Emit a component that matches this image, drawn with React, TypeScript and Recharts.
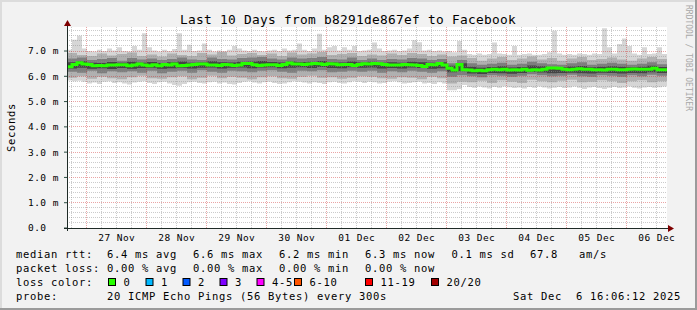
import React from 'react';
import {ComposedChart, Area, Line, XAxis, YAxis, CartesianGrid, ReferenceLine} from 'recharts';

const MONO = "'DejaVu Sans Mono', monospace";

// 2-hour steps starting Nov 26 16:06 (t = hours since start)
const median = [
    6.38, 6.47, 6.54, 6.49, 6.47, 6.42, 6.43, 6.42, 6.45, 6.45,
    6.46, 6.46, 6.42, 6.45, 6.49, 6.45, 6.42, 6.46, 6.42, 6.47,
    6.45, 6.49, 6.42, 6.43, 6.45, 6.47, 6.49, 6.49, 6.45, 6.45,
    6.43, 6.47, 6.46, 6.43, 6.45, 6.51, 6.51, 6.46, 6.43, 6.45,
    6.46, 6.46, 6.43, 6.47, 6.53, 6.49, 6.49, 6.47, 6.49, 6.51,
    6.50, 6.47, 6.50, 6.49, 6.46, 6.47, 6.47, 6.43, 6.47, 6.50,
    6.49, 6.51, 6.50, 6.47, 6.45, 6.45, 6.45, 6.47, 6.46, 6.45,
    6.43, 6.39, 6.47, 6.46, 6.51, 6.45, 6.32, 6.25, 6.47, 6.26,
    6.25, 6.22, 6.24, 6.22, 6.26, 6.28, 6.26, 6.28, 6.25, 6.26,
    6.25, 6.28, 6.24, 6.26, 6.25, 6.28, 6.33, 6.33, 6.32, 6.28,
    6.26, 6.28, 6.30, 6.28, 6.28, 6.26, 6.26, 6.25, 6.28, 6.28,
    6.26, 6.26, 6.28, 6.29, 6.28, 6.28, 6.28, 6.32, 6.26, 6.26,
];

// highest ping (light smoke top, spikes)
const pingMax = [
    7.05, 7.45, 7.60, 7.10, 7.00, 6.98, 7.05, 7.00, 7.10, 7.02,
    7.15, 7.00, 6.98, 7.20, 7.05, 7.70, 7.15, 7.02, 6.98, 7.05,
    7.00, 7.08, 7.70, 7.05, 7.25, 7.00, 7.02, 7.30, 7.05, 6.98,
    7.02, 7.00, 7.05, 7.20, 7.10, 7.02, 7.00, 7.05, 7.00, 6.98,
    7.02, 7.05, 7.00, 7.10, 7.02, 7.05, 7.30, 7.05, 7.00, 7.10,
    7.68, 7.05, 7.15, 7.20, 7.02, 7.15, 7.05, 7.20, 7.00, 7.02,
    7.05, 7.34, 7.10, 7.00, 7.02, 7.05, 7.00, 7.02, 7.10, 7.43,
    7.35, 7.02, 7.05, 7.00, 7.02, 6.98, 7.00, 6.95, 7.40, 7.05,
    6.88, 6.85, 6.90, 6.85, 6.88, 7.34, 6.90, 6.88, 6.85, 7.20,
    6.85, 6.88, 6.90, 6.85, 6.85, 6.88, 6.95, 7.80, 6.90, 6.85,
    6.88, 6.85, 6.90, 6.88, 6.85, 6.90, 6.88, 7.90, 7.15, 6.90,
    7.28, 7.50, 7.20, 6.90, 6.85, 7.15, 6.88, 6.90, 7.15, 6.88,
];

// lowest ping (light smoke bottom)
const pingMin = [
    5.83, 5.80, 5.82, 5.78, 5.72, 5.75, 5.70, 5.78, 5.80, 5.74,
    5.76, 5.72, 5.68, 5.75, 5.78, 5.80, 5.74, 5.70, 5.76, 5.78,
    5.72, 5.66, 5.63, 5.70, 5.76, 5.78, 5.74, 5.72, 5.76, 5.78,
    5.72, 5.75, 5.70, 5.68, 5.74, 5.78, 5.80, 5.75, 5.72, 5.76,
    5.78, 5.74, 5.70, 5.72, 5.76, 5.80, 5.78, 5.75, 5.72, 5.76,
    5.74, 5.70, 5.76, 5.78, 5.74, 5.72, 5.76, 5.80, 5.78, 5.74,
    5.78, 5.76, 5.72, 5.74, 5.78, 5.80, 5.76, 5.72, 5.74, 5.76,
    5.78, 5.72, 5.74, 5.70, 5.76, 5.72, 5.45, 5.45, 5.50, 5.66,
    5.58, 5.55, 5.60, 5.56, 5.52, 5.58, 5.55, 5.60, 5.57, 5.54,
    5.56, 5.52, 5.58, 5.55, 5.60, 5.56, 5.52, 5.55, 5.58, 5.54,
    5.56, 5.60, 5.55, 5.50, 5.56, 5.58, 5.54, 5.50, 5.55, 5.58,
    5.54, 5.56, 5.60, 5.55, 5.52, 5.56, 5.58, 5.55, 5.57, 5.60,
];

// inner smoke bands, 4-hour steps
const outerHi = [
    6.92, 6.84, 6.80, 6.90, 6.82, 6.88, 6.94, 6.80, 6.86, 6.78,
    6.90, 6.84, 6.80, 6.92, 6.86, 6.96, 6.82, 6.88, 6.92, 6.84,
    6.90, 6.80, 6.94, 6.86, 6.90, 6.96, 6.84, 6.88, 6.92, 6.80,
    6.86, 6.82, 6.90, 6.84, 6.92, 6.88, 6.80, 6.86, 6.78, 6.82,
    6.72, 6.62, 6.70, 6.76, 6.64, 6.70, 6.78, 6.66, 6.72, 6.62,
    6.70, 6.76, 6.64, 6.68, 6.74, 6.66, 6.62, 6.70, 6.76, 6.68,
];
const outerLo = [
    5.94, 6.00, 5.90, 5.98, 5.92, 5.88, 5.96, 6.02, 5.92, 5.90,
    5.96, 6.00, 5.88, 5.94, 6.02, 5.92, 5.98, 5.94, 5.88, 5.96,
    6.00, 5.92, 5.90, 5.98, 6.02, 5.94, 5.96, 5.90, 5.94, 6.00,
    5.98, 5.92, 5.90, 5.96, 5.94, 5.88, 5.98, 5.92, 5.72, 5.78,
    5.76, 5.82, 5.74, 5.84, 5.78, 5.74, 5.86, 5.80, 5.76, 5.82,
    5.86, 5.76, 5.78, 5.84, 5.80, 5.74, 5.80, 5.84, 5.76, 5.80,
];
const midHi = [
    6.70, 6.74, 6.64, 6.68, 6.72, 6.62, 6.72, 6.66, 6.70, 6.64,
    6.68, 6.74, 6.66, 6.64, 6.74, 6.68, 6.66, 6.72, 6.74, 6.76,
    6.70, 6.66, 6.74, 6.70, 6.72, 6.76, 6.68, 6.66, 6.74, 6.64,
    6.70, 6.64, 6.68, 6.66, 6.72, 6.70, 6.64, 6.68, 6.52, 6.64,
    6.52, 6.46, 6.50, 6.54, 6.46, 6.50, 6.58, 6.52, 6.48, 6.46,
    6.52, 6.56, 6.46, 6.50, 6.54, 6.50, 6.46, 6.50, 6.56, 6.48,
];
const midLo = [
    6.18, 6.14, 6.22, 6.12, 6.20, 6.16, 6.20, 6.14, 6.22, 6.12,
    6.18, 6.22, 6.14, 6.24, 6.18, 6.14, 6.22, 6.20, 6.16, 6.22,
    6.24, 6.18, 6.14, 6.22, 6.20, 6.24, 6.16, 6.18, 6.22, 6.18,
    6.22, 6.14, 6.20, 6.16, 6.22, 6.18, 6.14, 6.20, 5.98, 6.04,
    6.00, 5.96, 6.04, 6.02, 5.98, 6.02, 6.08, 6.04, 6.00, 6.02,
    6.06, 6.00, 5.98, 6.04, 6.02, 5.98, 6.04, 6.00, 6.06, 6.02,
];
const coreHi = [
    6.56, 6.60, 6.54, 6.53, 6.57, 6.54, 6.58, 6.54, 6.57, 6.53,
    6.56, 6.59, 6.54, 6.55, 6.60, 6.56, 6.55, 6.58, 6.59, 6.61,
    6.57, 6.55, 6.59, 6.57, 6.58, 6.61, 6.56, 6.55, 6.59, 6.55,
    6.58, 6.54, 6.56, 6.54, 6.58, 6.56, 6.54, 6.56, 6.42, 6.52,
    6.38, 6.34, 6.37, 6.40, 6.35, 6.37, 6.43, 6.40, 6.37, 6.36,
    6.39, 6.41, 6.36, 6.38, 6.40, 6.38, 6.36, 6.38, 6.42, 6.37,
];
const coreLo = [
    6.31, 6.34, 6.30, 6.32, 6.29, 6.33, 6.30, 6.33, 6.34, 6.30,
    6.32, 6.34, 6.31, 6.34, 6.35, 6.31, 6.34, 6.35, 6.32, 6.35,
    6.36, 6.32, 6.34, 6.36, 6.33, 6.37, 6.33, 6.32, 6.36, 6.34,
    6.35, 6.31, 6.33, 6.31, 6.35, 6.33, 6.30, 6.32, 6.16, 6.20,
    6.11, 6.09, 6.13, 6.12, 6.10, 6.13, 6.17, 6.15, 6.12, 6.13,
    6.14, 6.12, 6.11, 6.14, 6.13, 6.11, 6.13, 6.12, 6.16, 6.13,
];

const xTicks = [19.9, 43.9, 67.9, 91.9, 115.9, 139.9, 163.9, 187.9, 211.9, 235.9];
const xTickLabels = ['27 Nov', '28 Nov', '29 Nov', '30 Nov', '01 Dec', '02 Dec', '03 Dec', '04 Dec', '05 Dec', '06 Dec'];
const yTicks = [0, 1, 2, 3, 4, 5, 6, 7];
const yTickLabels = ['0.0', '1.0 m', '2.0 m', '3.0 m', '4.0 m', '5.0 m', '6.0 m', '7.0 m'];

const rttLegend = ['6.4 ms avg', '6.6 ms max', '6.2 ms min', '6.3 ms now', '0.1 ms sd', '67.8', 'am/s'];
const lossLegend = ['0.00 % avg', '0.00 % max', '0.00 % min', '0.00 % now'];
const lossColors = [
    {label: '0', color: '#26ff00'},
    {label: '1', color: '#00b8ff'},
    {label: '2', color: '#0059ff'},
    {label: '3', color: '#7e00ff'},
    {label: '4-5', color: '#ff00ff'},
    {label: '6-10', color: '#ff5500'},
    {label: '11-19', color: '#ff0000'},
    {label: '20/20', color: '#a10000'},
];

const rows: any[] = median.map((m, i) => ({
    t: i * 2,
    med: m,
    smoke: [pingMin[i], pingMax[i]],
    outer: [outerLo[i >> 1], outerHi[i >> 1]],
    mid: [midLo[i >> 1], midHi[i >> 1]],
    core: [coreLo[i >> 1], coreHi[i >> 1]],
}));
rows.push({...rows[rows.length - 1], t: 240});

// grid positions
const minorY: number[] = [];
for (let k = 1; k < 40; k++) if (k % 5 !== 0) minorY.push(k / 5);
const majorY = [1, 2, 3, 4, 5, 6, 7];
const minorX: number[] = [];
const majorX: number[] = [];
for (let h = 1.9; h < 240; h += 6) {
    if (Math.abs((h - 7.9) % 24) < 0.01) majorX.push(h); else minorX.push(h);
}

const GRID = 'rgba(140,140,140,0.45)';
const MGRID = 'rgba(205,40,40,0.42)';

const XTick = (props: any) => {
    const {x, payload} = props;
    const idx = xTicks.indexOf(payload.value);
    return (
        <text x={x} y={241} textAnchor="middle" fontFamily={MONO} fontSize={9.5} letterSpacing={0.45} fill="#000">
            {xTickLabels[idx]}
        </text>
    );
};

const YTick = (props: any) => {
    const {y, payload} = props;
    const idx = yTicks.indexOf(payload.value);
    return (
        <text x={28} y={y} dy="0.36em" fontFamily={MONO} fontSize={9.5} letterSpacing={0.45} fill="#000">
            {yTickLabels[idx]}
        </text>
    );
};

const T = (p: { x: number, y: number, children: any }) => (
    <text x={p.x} y={p.y} fontFamily={MONO} fontSize={10.5} letterSpacing={0.68} fill="#000"
          style={{whiteSpace: 'pre'}}>{p.children}</text>
);

const rttX = [107, 193, 279, 365, 451.5, 530, 579];
const lossX = [107, 193, 279, 365];
const boxX = [108.5, 146, 183, 220, 257, 294.5, 365.5, 431.5];

export default function App() {
    return (
        <div style={{position: 'absolute', left: 0, top: 0, width: 697, height: 310, background: '#f2f2f2'}}>
            <ComposedChart width={697} height={310} data={rows}
                           margin={{top: 27, right: 30, bottom: 62, left: 0}}>
                <CartesianGrid horizontal={false} vertical={false} fill="#ffffff"/>
                <XAxis type="number" dataKey="t" domain={[0, 240]} ticks={xTicks} tick={<XTick/>}
                       axisLine={false} tickLine={false} height={20} allowDataOverflow/>
                <YAxis type="number" domain={[0, 7.95]} ticks={yTicks} tick={<YTick/>}
                       axisLine={false} tickLine={{stroke: '#2c4d43'}} tickSize={3} width={67} allowDataOverflow/>
                <Area dataKey="smoke" type="stepAfter" stroke="none" fill="#d6d6d6" fillOpacity={1}
                      dot={false} activeDot={false} isAnimationActive={false}/>
                <Area dataKey="outer" type="stepAfter" stroke="none" fill="#b0b0b0" fillOpacity={1}
                      dot={false} activeDot={false} isAnimationActive={false}/>
                <Area dataKey="mid" type="stepAfter" stroke="none" fill="#7e7e7e" fillOpacity={1}
                      dot={false} activeDot={false} isAnimationActive={false}/>
                <Area dataKey="core" type="stepAfter" stroke="none" fill="#444444" fillOpacity={1}
                      dot={false} activeDot={false} isAnimationActive={false}/>
                {minorY.map(v => <ReferenceLine key={'my' + v} y={v} stroke={GRID} strokeDasharray="1 1" shapeRendering="crispEdges"/>)}
                {minorX.map(v => <ReferenceLine key={'mx' + v} x={v} stroke={GRID} strokeDasharray="1 1" shapeRendering="crispEdges"/>)}
                {majorY.map(v => <ReferenceLine key={'My' + v} y={v} stroke={MGRID} strokeDasharray="1 1" shapeRendering="crispEdges"/>)}
                {majorX.map(v => <ReferenceLine key={'Mx' + v} x={v} stroke={MGRID} strokeDasharray="1 1" shapeRendering="crispEdges"/>)}
                <Line dataKey="med" type="stepAfter" stroke="#26ff00" strokeWidth={3} dot={false}
                      activeDot={false} isAnimationActive={false}/>
            </ComposedChart>
            <svg width={697} height={310} style={{position: 'absolute', left: 0, top: 0, pointerEvents: 'none'}}>
                {/* frame */}
                <rect x={0} y={0} width={697} height={2} fill="#dcdcdc"/>
                <rect x={0} y={0} width={2} height={310} fill="#dcdcdc"/>
                <rect x={695} y={0} width={2} height={310} fill="#9b9b9b"/>
                <rect x={0} y={308} width={697} height={2} fill="#9b9b9b"/>
                {/* axes */}
                <line x1={64} y1={228.5} x2={668} y2={228.5} stroke="#1e2a26" strokeWidth={1}/>
                <line x1={67.5} y1={231} x2={67.5} y2={24} stroke="#1e2a26" strokeWidth={1}/>
                <polygon points="668,225 674,228.5 668,232" fill="#7f0000"/>
                <polygon points="64,26 67.5,20 71,26" fill="#7f0000"/>
                {/* title */}
                <text x={348} y={24} textAnchor="middle" fontFamily={MONO} fontSize={12.8} letterSpacing={0.3} fill="#000">
                    Last 10 Days from b8291de867ef to Facebook
                </text>
                <text x={15} y={127.5} textAnchor="middle" fontFamily={MONO} fontSize={10.5} letterSpacing={0.68}
                      fill="#000" transform="rotate(-90, 15, 127.5)">Seconds</text>
                <text x={686} y={5} fontFamily={MONO} fontSize={8} fill="#a8a8a8"
                      transform="rotate(90, 686, 5)">RRDTOOL / TOBI OETIKER</text>
                {/* legend */}
                <T x={16} y={257.5}>median rtt:</T>
                {rttLegend.map((s, i) => <T key={'r' + i} x={rttX[i]} y={257.5}>{s}</T>)}
                <T x={16} y={271.5}>packet loss:</T>
                {lossLegend.map((s, i) => <T key={'l' + i} x={lossX[i]} y={271.5}>{s}</T>)}
                <T x={16} y={285.5}>loss color:</T>
                {lossColors.map((c, i) => (
                    <g key={'c' + i}>
                        <rect x={boxX[i]} y={278.5} width={7} height={7} fill={c.color} stroke="#000" strokeWidth={1}/>
                        <T x={boxX[i] + 15} y={285.5}>{c.label}</T>
                    </g>
                ))}
                <T x={16} y={299.5}>probe:</T>
                <T x={107} y={299.5}>20 ICMP Echo Pings (56 Bytes) every 300s</T>
                <T x={513} y={299.5}>Sat Dec  6 16:06:12 2025</T>
            </svg>
        </div>
    );
}
